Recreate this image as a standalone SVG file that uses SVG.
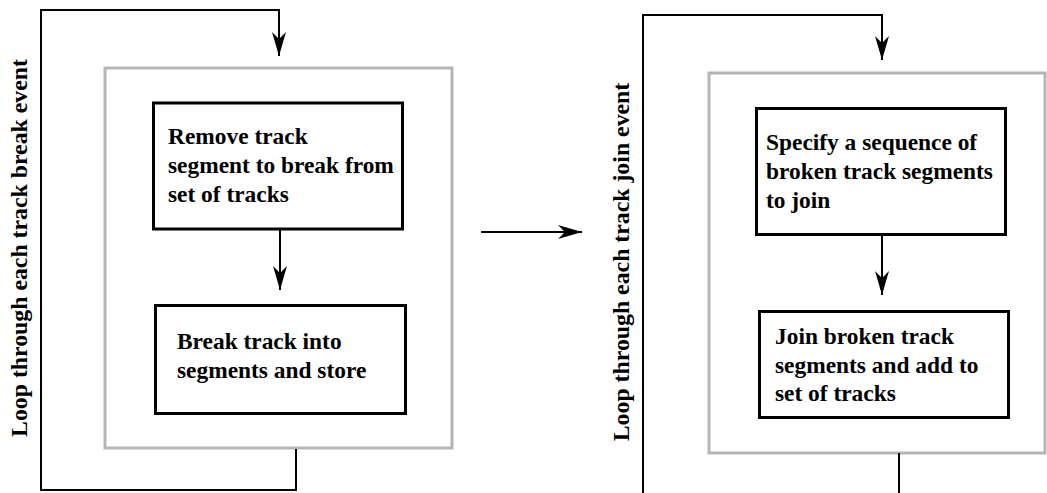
<svg xmlns="http://www.w3.org/2000/svg" width="1047" height="493" viewBox="0 0 1047 493">
<style>
.outer{fill:none;stroke:#b5b5b5;stroke-width:3}
.box{fill:#fff;stroke:#000;stroke-width:3}
.t{font-family:"Liberation Serif","Times New Roman",serif;font-weight:bold;font-size:23.4px;fill:#000}
.lbl{font-size:23.8px}
.ln{fill:none;stroke:#000;stroke-width:2}
</style>
<defs>
<marker id="ah" viewBox="0 0 24 14" refX="24" refY="7" markerWidth="24" markerHeight="14" markerUnits="userSpaceOnUse" orient="auto">
<path d="M0,0 L24,7 L0,14 L7,7 Z" fill="#000"/>
</marker>
</defs>
<rect width="1047" height="493" fill="#fff"/>
<g id="left-loop-container">
<rect class="outer" x="105" y="68" width="347" height="380"/>
</g>
<g id="right-loop-container">
<rect class="outer" x="709" y="73" width="336" height="380"/>
</g>
<g id="node-remove">
<rect class="box" x="153.5" y="103" width="249" height="126"/>
<text class="t" x="168" y="144">Remove track</text>
<text class="t" x="168" y="173">segment to break from</text>
<text class="t" x="168" y="202">set of tracks</text>
</g>
<g id="node-break">
<rect class="box" x="155.5" y="305.5" width="250" height="108"/>
<text class="t" x="177" y="349">Break track into</text>
<text class="t" x="177" y="378">segments and store</text>
</g>
<g id="node-specify">
<rect class="box" x="756.5" y="108.5" width="249" height="126"/>
<text class="t" x="766" y="150">Specify a sequence of</text>
<text class="t" x="766" y="179">broken track segments</text>
<text class="t" x="766" y="208">to join</text>
</g>
<g id="node-join">
<rect class="box" x="759.5" y="311.5" width="249" height="106"/>
<text class="t" x="775" y="344">Join broken track</text>
<text class="t" x="775" y="373">segments and add to</text>
<text class="t" x="775" y="401">set of tracks</text>
</g>
<g id="label-left">
<text class="t lbl" text-anchor="middle" transform="translate(27,248) rotate(-90)">Loop through each track break event</text>
</g>
<g id="label-right">
<text class="t lbl" text-anchor="middle" transform="translate(629,262) rotate(-90)">Loop through each track join event</text>
</g>
<g id="connectors">
<path class="ln" d="M296,449 V490 H41 V10 H279 V56" marker-end="url(#ah)"/>
<path class="ln" d="M280,230 V290" marker-end="url(#ah)"/>
<path class="ln" d="M481,232 H582" marker-end="url(#ah)"/>
<path class="ln" d="M899,453 V493"/>
<path class="ln" d="M643,493 V15 H882 V60" marker-end="url(#ah)"/>
<path class="ln" d="M882,236 V295" marker-end="url(#ah)"/>
</g>
</svg>
